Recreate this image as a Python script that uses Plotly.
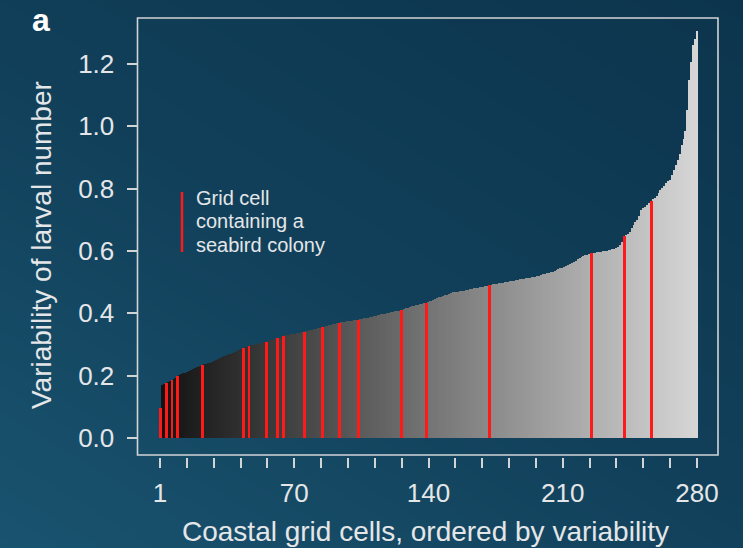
import numpy as np
import plotly.graph_objects as go

# Variability of larval number for each coastal grid cell, sorted ascending (cells 1..280)
variability = [
    0.095, 0.170, 0.173, 0.176, 0.179, 0.183, 0.187, 0.190, 0.194, 0.199,
    0.203, 0.206, 0.208, 0.210, 0.213, 0.216, 0.218, 0.221, 0.224, 0.227,
    0.229, 0.232, 0.234, 0.236, 0.238, 0.240, 0.242, 0.245, 0.247, 0.250,
    0.253, 0.256, 0.259, 0.262, 0.264, 0.266, 0.269, 0.271, 0.274, 0.277,
    0.280, 0.283, 0.286, 0.289, 0.291, 0.293, 0.295, 0.297, 0.298, 0.300,
    0.301, 0.302, 0.304, 0.305, 0.307, 0.309, 0.311, 0.313, 0.315, 0.317,
    0.318, 0.320, 0.322, 0.325, 0.327, 0.329, 0.331, 0.332, 0.333, 0.334,
    0.335, 0.336, 0.337, 0.338, 0.340, 0.341, 0.343, 0.344, 0.346, 0.347,
    0.349, 0.350, 0.352, 0.353, 0.355, 0.357, 0.358, 0.360, 0.362, 0.363,
    0.365, 0.366, 0.368, 0.370, 0.371, 0.372, 0.373, 0.374, 0.375, 0.376,
    0.377, 0.378, 0.378, 0.379, 0.381, 0.382, 0.384, 0.385, 0.386, 0.388,
    0.389, 0.391, 0.392, 0.394, 0.395, 0.397, 0.398, 0.399, 0.401, 0.402,
    0.404, 0.405, 0.406, 0.408, 0.409, 0.411, 0.412, 0.414, 0.416, 0.418,
    0.420, 0.422, 0.424, 0.426, 0.427, 0.429, 0.430, 0.432, 0.434, 0.436,
    0.438, 0.441, 0.444, 0.447, 0.450, 0.452, 0.454, 0.456, 0.458, 0.460,
    0.463, 0.465, 0.467, 0.468, 0.469, 0.470, 0.471, 0.472, 0.473, 0.475,
    0.476, 0.477, 0.478, 0.480, 0.481, 0.482, 0.484, 0.485, 0.486, 0.488,
    0.489, 0.491, 0.492, 0.493, 0.494, 0.495, 0.496, 0.497, 0.498, 0.499,
    0.500, 0.502, 0.503, 0.504, 0.505, 0.506, 0.507, 0.509, 0.510, 0.511,
    0.512, 0.513, 0.514, 0.515, 0.516, 0.518, 0.519, 0.521, 0.523, 0.525,
    0.527, 0.528, 0.530, 0.532, 0.534, 0.536, 0.539, 0.541, 0.544, 0.546,
    0.549, 0.552, 0.555, 0.559, 0.562, 0.566, 0.569, 0.573, 0.576, 0.580,
    0.583, 0.586, 0.588, 0.591, 0.593, 0.594, 0.595, 0.596, 0.597, 0.598,
    0.599, 0.600, 0.601, 0.602, 0.603, 0.605, 0.607, 0.610, 0.614, 0.618,
    0.630, 0.648, 0.652, 0.655, 0.660, 0.675, 0.685, 0.692, 0.699, 0.712,
    0.731, 0.737, 0.742, 0.748, 0.755, 0.761, 0.766, 0.771, 0.778, 0.786,
    0.796, 0.803, 0.810, 0.817, 0.824, 0.829, 0.845, 0.860, 0.876, 0.892,
    0.910, 0.940, 0.960, 0.985, 1.052, 1.150, 1.205, 1.262, 1.280, 1.305,
]

# Rank positions of the grid cells that contain a seabird colony
colony_cells = [1, 4, 7, 10, 23, 44, 47, 56, 62, 65, 76, 85, 94, 104, 126, 139,
                172, 225, 242, 256]

# Axis ticks
y_tick_vals = [0.0, 0.2, 0.4, 0.6, 0.8, 1.0, 1.2]
y_tick_text = ["0.0", "0.2", "0.4", "0.6", "0.8", "1.0", "1.2"]
x_tick_labels = ["1", "70", "140", "210", "280"]

legend_lines = ["Grid cell", "containing a", "seabird colony"]
x_title = "Coastal grid cells, ordered by variability"
y_title = "Variability of larval number"
panel_label = "a"

W, H = 743, 548
n = len(variability)
cells = np.arange(1, n + 1)

# grey ramp from near-black to light grey along the ranking
grey = np.linspace(18, 214, n).round().astype(int)
bar_colors = [f"rgb({g},{g},{g})" for g in grey]

colony_vals = [variability[i - 1] for i in colony_cells]

# 21 evenly spaced marks between the first and last cell, every fifth one labelled
x_ticks = list(np.linspace(1, n, 21))
x_tick_text = [x_tick_labels[k // 5] if k % 5 == 0 else "" for k in range(21)]

FONT = "Liberation Sans, Arial, Helvetica, sans-serif"
TXT = "#e4e6e8"
AXC = "#d2d4d6"

# pixel layout of the plotting frame
left_px, right_px, top_px, bottom_px = 137.5, 718.0, 18.0, 457.0
frame_bottom_px = 455.0

def px_x(p):
    return p / W

def px_y(p):
    return 1 - p / H

# data-to-pixel calibration
x_per_px = (n - 1) / (697.0 - 160.0)
x_range = [1 - (160.0 - left_px) * x_per_px, n + (right_px - 697.0) * x_per_px]
y_per_px = 1.2 / (438.0 - 64.0)
y_range = [-(bottom_px - 438.0) * y_per_px, (438.0 - top_px) * y_per_px]

fig = go.Figure()

# background gradient over the whole canvas
fig.add_trace(go.Heatmap(
    z=[[0.0, 0.45], [0.55, 1.0]],
    x=[0, 1], y=[0, 1],
    zsmooth="best",
    colorscale=[[0, "#19536f"], [0.5, "#113f59"], [1, "#0c344d"]],
    showscale=False, hoverinfo="skip",
    xaxis="x", yaxis="y",
))

fig.add_trace(go.Bar(
    x=cells, y=variability, width=1.0,
    marker=dict(color=bar_colors, line=dict(width=0)),
    xaxis="x2", yaxis="y2", showlegend=False, hoverinfo="x+y",
))

fig.add_trace(go.Bar(
    x=colony_cells, y=colony_vals, width=1.5,
    marker=dict(color="#ff1a1a", line=dict(width=0)),
    xaxis="x2", yaxis="y2", showlegend=False, hoverinfo="x+y",
))

fig.update_layout(
    width=W, height=H,
    margin=dict(l=0, r=0, t=0, b=0),
    paper_bgcolor="#113f59",
    plot_bgcolor="rgba(0,0,0,0)",
    barmode="overlay", bargap=0,
    showlegend=False,
    font=dict(family=FONT, color=TXT),
    xaxis=dict(domain=[0, 1], range=[0, 1], visible=False, fixedrange=True),
    yaxis=dict(domain=[0, 1], range=[0, 1], visible=False, fixedrange=True),
    xaxis2=dict(
        domain=[px_x(left_px), px_x(right_px)], anchor="y2",
        range=x_range, showgrid=False, zeroline=False, showline=False,
        tickmode="array", tickvals=x_ticks, ticktext=x_tick_text,
        ticks="outside", ticklen=10, tickwidth=1.5, tickcolor=AXC,
        ticklabelstandoff=3,
        tickfont=dict(family=FONT, size=26, color=TXT),
    ),
    yaxis2=dict(
        domain=[px_y(bottom_px), px_y(top_px)], anchor="x2",
        range=y_range, showgrid=False, zeroline=False, showline=False,
        tickmode="array", tickvals=y_tick_vals, ticktext=y_tick_text,
        ticks="outside", ticklen=10, tickwidth=1.5, tickcolor=AXC,
        ticklabelstandoff=7,
        tickfont=dict(family=FONT, size=26, color=TXT),
    ),
)

shapes = [
    # plot frame
    dict(type="rect", xref="paper", yref="paper",
         x0=px_x(left_px), x1=px_x(right_px),
         y0=px_y(frame_bottom_px), y1=px_y(top_px),
         line=dict(color=AXC, width=1.6), fillcolor="rgba(0,0,0,0)", layer="above"),
    # legend key
    dict(type="line", xref="paper", yref="paper",
         x0=px_x(182), x1=px_x(182), y0=px_y(192), y1=px_y(252),
         line=dict(color="#ff1a1a", width=2.5)),
]
fig.update_layout(shapes=shapes)

annotations = [
    dict(text=x_title, xref="paper", yref="paper", x=px_x(425), y=px_y(531),
         xanchor="center", yanchor="middle", showarrow=False,
         font=dict(family=FONT, size=28, color=TXT)),
    dict(text=y_title, xref="paper", yref="paper", x=px_x(41), y=px_y(245),
         xanchor="center", yanchor="middle", showarrow=False, textangle=-90,
         font=dict(family=FONT, size=28, color=TXT)),
    dict(text=f"<b>{panel_label}</b>", xref="paper", yref="paper", x=px_x(41), y=px_y(20),
         xanchor="center", yanchor="middle", showarrow=False,
         font=dict(family=FONT, size=32, color="#ffffff")),
]
for i, line in enumerate(legend_lines):
    annotations.append(dict(
        text=line, xref="paper", yref="paper", x=px_x(194), y=px_y(198 + 23.5 * i),
        xanchor="left", yanchor="middle", showarrow=False,
        font=dict(family=FONT, size=20, color=TXT)))
fig.update_layout(annotations=annotations)

fig.write_html("out.html")
